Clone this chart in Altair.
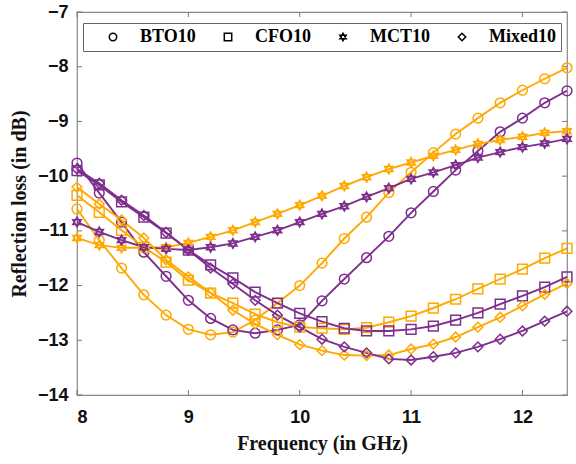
import altair as alt
import pandas as pd

freq = [8.0, 8.2, 8.4, 8.6, 8.8, 9.0, 9.2, 9.4, 9.6, 9.8, 10.0, 10.2,
        10.4, 10.6, 10.8, 11.0, 11.2, 11.4, 11.6, 11.8, 12.0, 12.2, 12.4]

bto_orange = [-10.60, -11.17, -11.68, -12.17, -12.54, -12.80, -12.90, -12.85, -12.63, -12.32, -12.00, -11.59,
              -11.14, -10.75, -10.30, -9.93, -9.57, -9.23, -8.94, -8.66, -8.43, -8.22, -8.02]
bto_purple = [-9.76, -10.31, -10.84, -11.39, -11.83, -12.27, -12.60, -12.81, -12.87, -12.81, -12.72, -12.28,
              -11.88, -11.49, -11.10, -10.67, -10.28, -9.89, -9.54, -9.19, -8.94, -8.66, -8.44]
cfo_orange = [-10.35, -10.66, -10.99, -11.30, -11.57, -11.90, -12.14, -12.32, -12.52, -12.67, -12.76, -12.78,
              -12.80, -12.77, -12.67, -12.56, -12.41, -12.25, -12.06, -11.88, -11.70, -11.50, -11.32]
cfo_purple = [-9.90, -10.16, -10.47, -10.75, -11.04, -11.35, -11.62, -11.86, -12.12, -12.32, -12.51, -12.66,
              -12.78, -12.83, -12.83, -12.80, -12.74, -12.63, -12.50, -12.34, -12.19, -12.03, -11.84]
mct_orange = [-11.13, -11.26, -11.31, -11.31, -11.30, -11.22, -11.11, -10.99, -10.84, -10.69, -10.53, -10.36,
              -10.18, -10.02, -9.87, -9.75, -9.63, -9.52, -9.41, -9.34, -9.28, -9.21, -9.18]
mct_purple = [-10.84, -11.02, -11.17, -11.30, -11.33, -11.35, -11.30, -11.23, -11.11, -10.99, -10.84, -10.69,
              -10.55, -10.38, -10.22, -10.05, -9.93, -9.80, -9.66, -9.56, -9.47, -9.40, -9.32]
mix_orange = [-10.20, -10.51, -10.80, -11.13, -11.53, -11.84, -12.13, -12.45, -12.70, -12.90, -13.08, -13.19,
              -13.27, -13.28, -13.27, -13.16, -13.07, -12.94, -12.76, -12.58, -12.37, -12.16, -11.96]
mix_purple = [-9.87, -10.13, -10.44, -10.72, -11.03, -11.35, -11.68, -11.97, -12.27, -12.54, -12.76, -12.98,
              -13.12, -13.23, -13.34, -13.36, -13.30, -13.23, -13.12, -12.98, -12.83, -12.65, -12.47]

samples = ["BTO10", "CFO10", "MCT10", "Mixed10"]
groups = ["orange", "purple"]
x_ticks = [8, 9, 10, 11, 12]
y_ticks = [-14, -13, -12, -11, -10, -9, -8, -7]

series = [
    ("BTO10", "orange", bto_orange), ("BTO10", "purple", bto_purple),
    ("CFO10", "orange", cfo_orange), ("CFO10", "purple", cfo_purple),
    ("MCT10", "orange", mct_orange), ("MCT10", "purple", mct_purple),
    ("Mixed10", "orange", mix_orange), ("Mixed10", "purple", mix_purple),
]
rows = []
for name, grp, vals in series:
    for f, v in zip(freq, vals):
        rows.append({"freq": f, "rl": v, "sample": name, "grp": grp, "key": name + grp})
df = pd.DataFrame(rows)

ORANGE = "#FFA800"
PURPLE = "#7E2F8E"
STAR = "M0,-1L0.866,0.5L-0.866,0.5Z M0,1L0.866,-0.5L-0.866,-0.5Z"

W, H = 490, 383
xs = alt.Scale(domain=[8, 12.4], nice=False, zero=False)
ys = alt.Scale(domain=[-14, -7], nice=False, zero=False)

x_axis = alt.Axis(values=x_ticks, title="Frequency (in GHz)", domain=False, ticks=False, grid=False,
                  labelPadding=13, titlePadding=7)
y_axis = alt.Axis(values=y_ticks, title="Reflection loss (in dB)", domain=False, ticks=False, grid=False,
                  labelPadding=9, titlePadding=8)

color = alt.Color("grp:N", scale=alt.Scale(domain=groups, range=[ORANGE, PURPLE]), legend=None)

base = alt.Chart(df)
lines = base.mark_line(strokeWidth=1.9).encode(
    x=alt.X("freq:Q", scale=xs, axis=x_axis),
    y=alt.Y("rl:Q", scale=ys, axis=y_axis),
    color=color,
    detail="key:N",
)
points = base.mark_point(filled=False, size=95, strokeWidth=1.5, opacity=1).encode(
    x=alt.X("freq:Q", scale=xs, axis=x_axis),
    y=alt.Y("rl:Q", scale=ys, axis=y_axis),
    color=color,
    shape=alt.Shape("sample:N", scale=alt.Scale(domain=samples, range=["circle", "square", STAR, "diamond"]),
                    legend=alt.Legend(title=None, orient="none", legendX=6, legendY=11,
                                      direction="horizontal",
                                      symbolStrokeColor="black", symbolFillColor="white",
                                      symbolSize=55, symbolStrokeWidth=1.5,
                                      symbolOffset=16, labelOffset=18, columnPadding=7,
                                      padding=5, strokeColor="#666", fillColor="white",
                                      labelFont="Liberation Serif", labelFontWeight="bold",
                                      labelFontSize=18, labelColor="black")),
    detail="key:N",
)

xt = pd.DataFrame({"t": x_ticks})
yt = pd.DataFrame({"t": y_ticks})
tick_col = "#777"
bx = alt.Chart(xt).mark_rule(color=tick_col, strokeWidth=1).encode(
    x=alt.X("t:Q", scale=xs, axis=x_axis), y=alt.value(H), y2=alt.value(H - 5))
tx = alt.Chart(xt).mark_rule(color=tick_col, strokeWidth=1).encode(
    x=alt.X("t:Q", scale=xs, axis=x_axis), y=alt.value(0), y2=alt.value(5))
ly = alt.Chart(yt).mark_rule(color=tick_col, strokeWidth=1).encode(
    y=alt.Y("t:Q", scale=ys, axis=y_axis), x=alt.value(0), x2=alt.value(5))
ry = alt.Chart(yt).mark_rule(color=tick_col, strokeWidth=1).encode(
    y=alt.Y("t:Q", scale=ys, axis=y_axis), x=alt.value(W), x2=alt.value(W - 5))

chart = alt.layer(bx, tx, ly, ry, lines, points).properties(
    width=W, height=H,
    autosize=alt.AutoSizeParams(type="none"),
    padding={"left": 77, "top": 12, "right": 9, "bottom": 69},
).configure_view(
    stroke="#888", strokeWidth=1.2
).configure_axis(
    labelFont="Liberation Sans", labelFontWeight="bold", labelFontSize=18, labelColor="#111",
    titleFont="Liberation Serif", titleFontWeight="bold", titleFontSize=20, titleColor="#111",
)

chart.save("out.html", embed_options={"renderer": "svg", "actions": False})
